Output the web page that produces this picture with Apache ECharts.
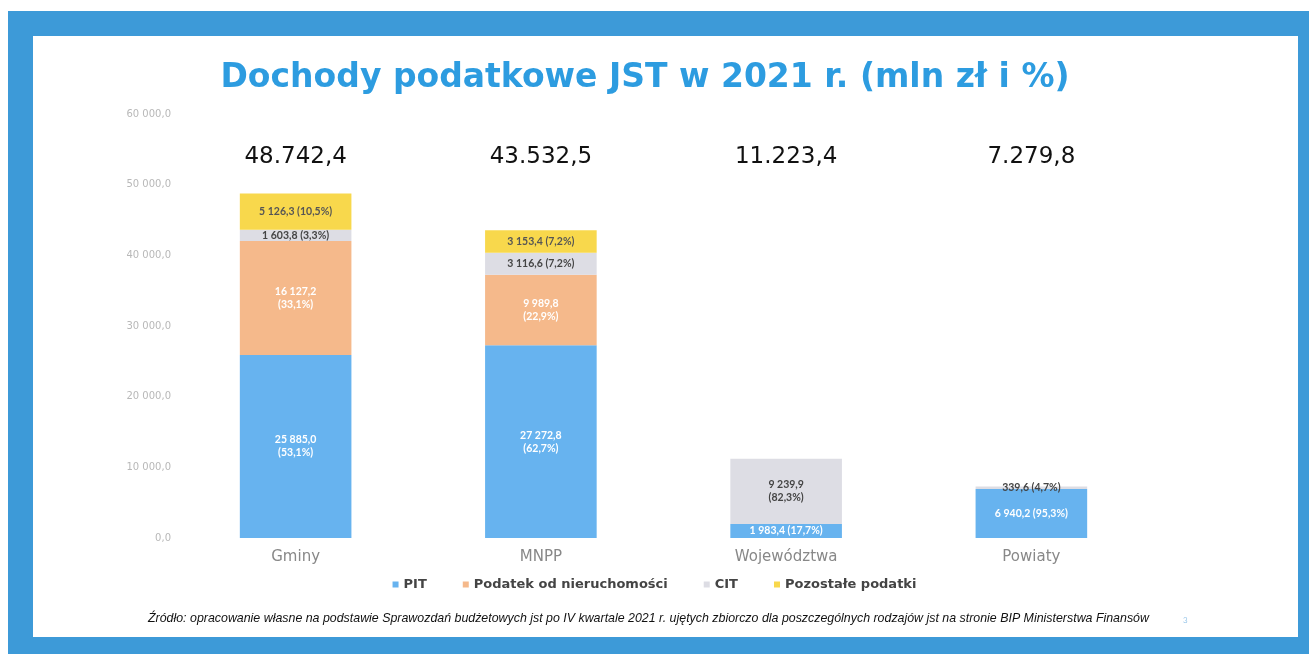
<!DOCTYPE html>
<html>
<head>
<meta charset="utf-8">
<script src="https://cdn.jsdelivr.net/npm/echarts@6/dist/echarts.min.js"></script>
<style>
  html, body { margin: 0; padding: 0; background: #fff; }
  .frame { position: absolute; left: 8px; top: 11px; width: 1301px; height: 643px; background: #3d9ad8; }
  .sheet { position: absolute; left: 33px; top: 36px; width: 1265px; height: 601px; background: #fff; }
  #chart { position: absolute; left: 0; top: 0; width: 1309px; height: 654px; }
</style>
</head>
<body>
<div class="frame"></div>
<div class="sheet"></div>
<div id="chart"></div>
<script>
// dane (mln zł)
const categories = ['Gminy', 'MNPP', 'Województwa', 'Powiaty']
const totals = [48742.4, 43532.5, 11223.4, 7279.8]
const pit = [25885.0, 27272.8, 1983.4, 6940.2]
const nieruchomosci = [16127.2, 9989.8, null, null]
const cit = [1603.8, 3116.6, 9239.9, 339.6]
const pozostale = [5126.3, 3153.4, null, null]
// udział w %
const pitPct = [53.1, 62.7, 17.7, 95.3]
const nierPct = [33.1, 22.9, null, null]
const citPct = [3.3, 7.2, 82.3, 4.7]
const pozPct = [10.5, 7.2, null, null]
const yTicks = [0, 10000, 20000, 30000, 40000, 50000, 60000]

const font = '"DejaVu Sans", sans-serif'
const lato = 'Lato, "Noto Sans", sans-serif'

function fmt (v, sep) {
  const parts = v.toFixed(1).split('.')
  return parts[0].replace(/\B(?=(\d{3})+(?!\d))/g, sep) + ',' + parts[1]
}

function segLabel (pcts, color) {
  return {
    show: true,
    position: 'inside',
    color: color,
    fontSize: 10.5,
    fontWeight: 'bold',
    fontFamily: lato,
    lineHeight: 13,
    formatter: function (p) {
      if (p.value == null) return ''
      const pct = fmt(pcts[p.dataIndex], '') + '%'
      const sep = p.value > 8000 ? '\n' : ' '
      return fmt(p.value, ' ') + sep + '(' + pct + ')'
    }
  }
}

const myChart = echarts.init(document.getElementById('chart'))
const option = {
  backgroundColor: 'transparent',
  color: ['#67b3ef', '#f5b98b', '#dddde4', '#f8d84c'],
  grid: { left: 173, right: 155, top: 114, bottom: 116 },
  graphic: [
    {
      type: 'text', x: 645, y: 78,
      style: {
        text: 'Dochody podatkowe JST w 2021 r. (mln zł i %)', fill: '#2d9ce0',
        font: 'bold 33px ' + font, align: 'center', verticalAlign: 'middle'
      }
    },
    {
      type: 'text', x: 148, y: 619,
      style: {
        text: 'Źródło: opracowanie własne na podstawie Sprawozdań budżetowych jst po IV kwartale 2021 r. ujętych zbiorczo dla poszczególnych rodzajów jst na stronie BIP Ministerstwa Finansów',
        fill: '#111', font: 'italic 12.4px "Liberation Sans", sans-serif', verticalAlign: 'middle'
      }
    },
    {
      type: 'text', x: 1183, y: 620,
      style: { text: '3', fill: '#9cc8ea', font: '8px ' + lato, verticalAlign: 'middle' }
    }
  ],
  legend: {
    bottom: 58,
    left: 'center',
    itemWidth: 6,
    itemHeight: 6,
    itemGap: 36,
    icon: 'rect',
    textStyle: { color: '#444', fontSize: 13, fontWeight: 'bold', fontFamily: font },
    data: ['PIT', 'Podatek od nieruchomości', 'CIT', 'Pozostałe podatki']
  },
  xAxis: [
    {
      type: 'category',
      data: categories,
      axisLine: { show: false },
      axisTick: { show: false },
      axisLabel: { color: '#888', fontSize: 15, fontFamily: font, margin: 12 }
    },
    {
      type: 'category',
      position: 'top',
      data: totals.map(function (t) { return fmt(t, '.') }),
      axisLine: { show: false },
      axisTick: { show: false },
      axisLabel: { color: '#111', fontSize: 23, fontFamily: font, margin: -55 }
    }
  ],
  yAxis: {
    type: 'value',
    min: yTicks[0],
    max: yTicks[yTicks.length - 1],
    interval: 10000,
    splitLine: { show: false },
    axisLine: { show: false },
    axisTick: { show: false },
    axisLabel: {
      color: '#b8b8b8', fontSize: 10, margin: 2, fontFamily: font,
      formatter: function (v) { return fmt(v, ' ') }
    }
  },
  series: [
    { name: 'PIT', type: 'bar', stack: 'a', barWidth: '45.5%', data: pit, label: segLabel(pitPct, '#fff') },
    { name: 'Podatek od nieruchomości', type: 'bar', stack: 'a', data: nieruchomosci, label: segLabel(nierPct, '#fff') },
    { name: 'CIT', type: 'bar', stack: 'a', data: cit, label: segLabel(citPct, '#444') },
    { name: 'Pozostałe podatki', type: 'bar', stack: 'a', data: pozostale, label: segLabel(pozPct, '#555') }
  ]
}
myChart.setOption(option)
</script>
</body>
</html>
